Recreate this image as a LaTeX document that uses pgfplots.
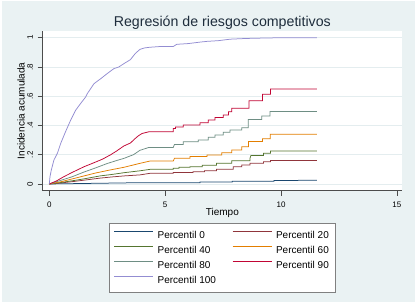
\documentclass[border=0pt]{standalone}
\usepackage{fontspec}
\setmainfont{Liberation Sans}
\usepackage{pgfplots}
\pgfplotsset{compat=1.18}
\definecolor{stbg}{RGB}{234,242,243}
\definecolor{snavy}{RGB}{26,71,111}
\definecolor{smaroon}{RGB}{144,53,59}
\definecolor{sgreen}{RGB}{85,117,47}
\definecolor{sorange}{RGB}{227,126,0}
\definecolor{steal}{RGB}{110,142,132}
\definecolor{scran}{RGB}{193,5,52}
\definecolor{slav}{RGB}{147,141,210}
\definecolor{sgrid}{RGB}{228,237,239}
\definecolor{stitle}{RGB}{30,45,60}
\begin{document}
\begin{tikzpicture}
\fill[white] (0pt,0pt) rectangle (416pt,304pt);
\fill[stbg] (1.5pt,1.5pt) rectangle (414.5pt,302.5pt);
\useasboundingbox (0pt,0pt) rectangle (416pt,304pt);
\begin{axis}[
  at={(42.7pt,113.3pt)}, anchor=south west,
  scale only axis, width=359.3pt, height=159.7pt,
  xmin=-0.285, xmax=15.22, ymin=-0.046, ymax=1.046,
  axis background/.style={fill=white},
  axis x line*=bottom, axis y line*=left,
  axis line style={-, draw=black!70, line width=0.6pt},
  tick align=outside, major tick length=5pt,
  tick style={draw=black!70, line width=0.6pt},
  xtick={0,5,10,15}, xticklabels={0,5,10,15},
  ytick={0,0.2,0.4,0.6,0.8,1}, yticklabels={0,.2,.4,.6,.8,1},
  ticklabel style={font=\fontsize{8}{9.6}\selectfont, text=black},
  yticklabel style={rotate=90, anchor=south, inner ysep=4.5pt},
  xticklabel shift=3pt,
  ymajorgrids, grid style={sgrid, line width=0.8pt},
  title={Regresión de riesgos competitivos},
  title style={at={(axis description cs:0.5,1)}, anchor=base, yshift=-2pt,
    font=\fontsize{14.2}{17}\selectfont, text=stitle},
  xlabel={Tiempo},
  xlabel style={at={(axis description cs:0.5,0)}, anchor=base, yshift=-25.3pt,
    font=\fontsize{10}{12}\selectfont, text=black},
  ylabel={Incidencia acumulada},
  ylabel style={at={(axis description cs:-0.0604,0.5)}, anchor=center,
    font=\fontsize{10}{12}\selectfont, text=black},
  legend columns=2,
  legend cell align=left,
  legend image code/.code={\draw[#1] (0pt,3.6pt) -- (39pt,3.6pt);},
  legend style={at={(axis description cs:0.5,-0.204)}, anchor=north,
    draw=black!50, fill=white, font=\fontsize{10}{12}\selectfont,
    inner xsep=4.7pt, inner ysep=5.5pt, row sep=2.2pt,
    /tikz/every odd column/.append style={column sep=2pt},
    /tikz/every even column/.append style={column sep=14.3pt}},
  every axis plot/.append style={line width=0.75pt},
]
\addplot[color=snavy] coordinates {
(0,0) (4,0.009) (6.5,0.009) (6.5,0.013) (7.9,0.013) (7.9,0.018) (9.7,0.018) (9.7,0.024) (11.55,0.025)};
\addlegendentry{Percentil 0}
\addplot[color=smaroon] coordinates {
(0,0) (0.5,0.007) (1,0.016) (1.5,0.026) (2.19,0.04) (2.7,0.048) (3.22,0.055) (3.91,0.062) (4.35,0.073) (5.35,0.073) (5.35,0.078) (6.2,0.078) (6.2,0.084) (6.7,0.084) (6.7,0.09) (7.22,0.09) (7.22,0.10) (7.94,0.10) (7.94,0.118) (8.3,0.118) (8.3,0.13) (8.66,0.13) (8.66,0.141) (9.24,0.141) (9.24,0.152) (9.55,0.152) (9.55,0.16) (11.55,0.16)};
\addlegendentry{Percentil 20}
\addplot[color=sgreen] coordinates {
(0,0) (0.5,0.01) (1,0.022) (1.5,0.035) (2.19,0.055) (2.7,0.065) (3.22,0.077) (3.91,0.09) (4.35,0.10) (5.35,0.10) (5.35,0.107) (5.6,0.107) (5.6,0.115) (6.07,0.115) (6.07,0.118) (6.6,0.118) (6.6,0.128) (7.22,0.128) (7.22,0.141) (7.87,0.141) (7.87,0.159) (8.66,0.159) (8.66,0.175) (8.7,0.195) (9.24,0.195) (9.24,0.21) (9.55,0.21) (9.55,0.225) (11.55,0.225)};
\addlegendentry{Percentil 40}
\addplot[color=sorange] coordinates {
(0,0) (0.5,0.015) (1,0.035) (1.5,0.055) (2,0.075) (2.6,0.095) (3.22,0.114) (3.63,0.13) (3.91,0.141) (4.35,0.157) (5.35,0.157) (5.4,0.175) (6.07,0.175) (6.07,0.187) (6.8,0.187) (6.8,0.198) (7.44,0.198) (7.44,0.214) (7.87,0.214) (7.87,0.232) (8.3,0.232) (8.3,0.255) (8.6,0.255) (8.6,0.29) (9.2,0.29) (9.2,0.31) (9.53,0.31) (9.53,0.34) (11.55,0.34)};
\addlegendentry{Percentil 60}
\addplot[color=steal] coordinates {
(0,0) (0.5,0.025) (1,0.05) (1.47,0.08) (2,0.11) (2.5,0.14) (2.9,0.16) (3.22,0.175) (3.63,0.20) (3.91,0.23) (4.3,0.25) (5.35,0.25) (5.4,0.27) (5.78,0.27) (5.78,0.289) (6.43,0.289) (6.43,0.30) (6.86,0.30) (6.86,0.319) (7.15,0.319) (7.15,0.335) (7.51,0.335) (7.51,0.353) (7.8,0.353) (7.8,0.369) (8.3,0.369) (8.3,0.385) (8.59,0.385) (8.59,0.44) (9.17,0.44) (9.17,0.465) (9.52,0.465) (9.52,0.495) (11.55,0.495)};
\addlegendentry{Percentil 80}
\addplot[color=scran] coordinates {
(0,0) (0.3,0.02) (0.63,0.05) (1.0,0.08) (1.5,0.118) (2.0,0.15) (2.3,0.17) (2.65,0.20) (2.9,0.225) (3.22,0.26) (3.5,0.28) (3.7,0.31) (3.85,0.33) (4.0,0.345) (4.3,0.357) (5.35,0.357) (5.35,0.38) (5.45,0.38) (5.45,0.39) (5.78,0.39) (5.78,0.403) (6.5,0.403) (6.5,0.419) (6.86,0.419) (6.86,0.437) (7.15,0.437) (7.15,0.455) (7.51,0.455) (7.51,0.471) (7.73,0.471) (7.73,0.494) (7.87,0.494) (7.87,0.517) (8.62,0.517) (8.62,0.569) (9.2,0.569) (9.2,0.613) (9.55,0.613) (9.55,0.649) (11.55,0.649)};
\addlegendentry{Percentil 90}
\addplot[color=slav] coordinates {
(0,0) (0.03,0.05) (0.086,0.095) (0.2,0.164) (0.35,0.21) (0.49,0.277) (0.7,0.357) (0.92,0.436) (1.14,0.505) (1.35,0.55) (1.57,0.595) (1.64,0.618) (1.93,0.686) (2.22,0.72) (2.5,0.755) (2.79,0.789) (3.0,0.80) (3.22,0.823) (3.5,0.85) (3.7,0.89) (3.8,0.905) (3.91,0.92) (4.1,0.93) (4.35,0.935) (4.8,0.94) (5.35,0.94) (5.5,0.955) (6.0,0.96) (6.5,0.97) (6.8,0.975) (7.3,0.98) (7.8,0.99) (8.5,0.995) (9.3,0.998) (10,1.0) (11.55,1.0)};
\addlegendentry{Percentil 100}
\end{axis}
\end{tikzpicture}
\end{document}
